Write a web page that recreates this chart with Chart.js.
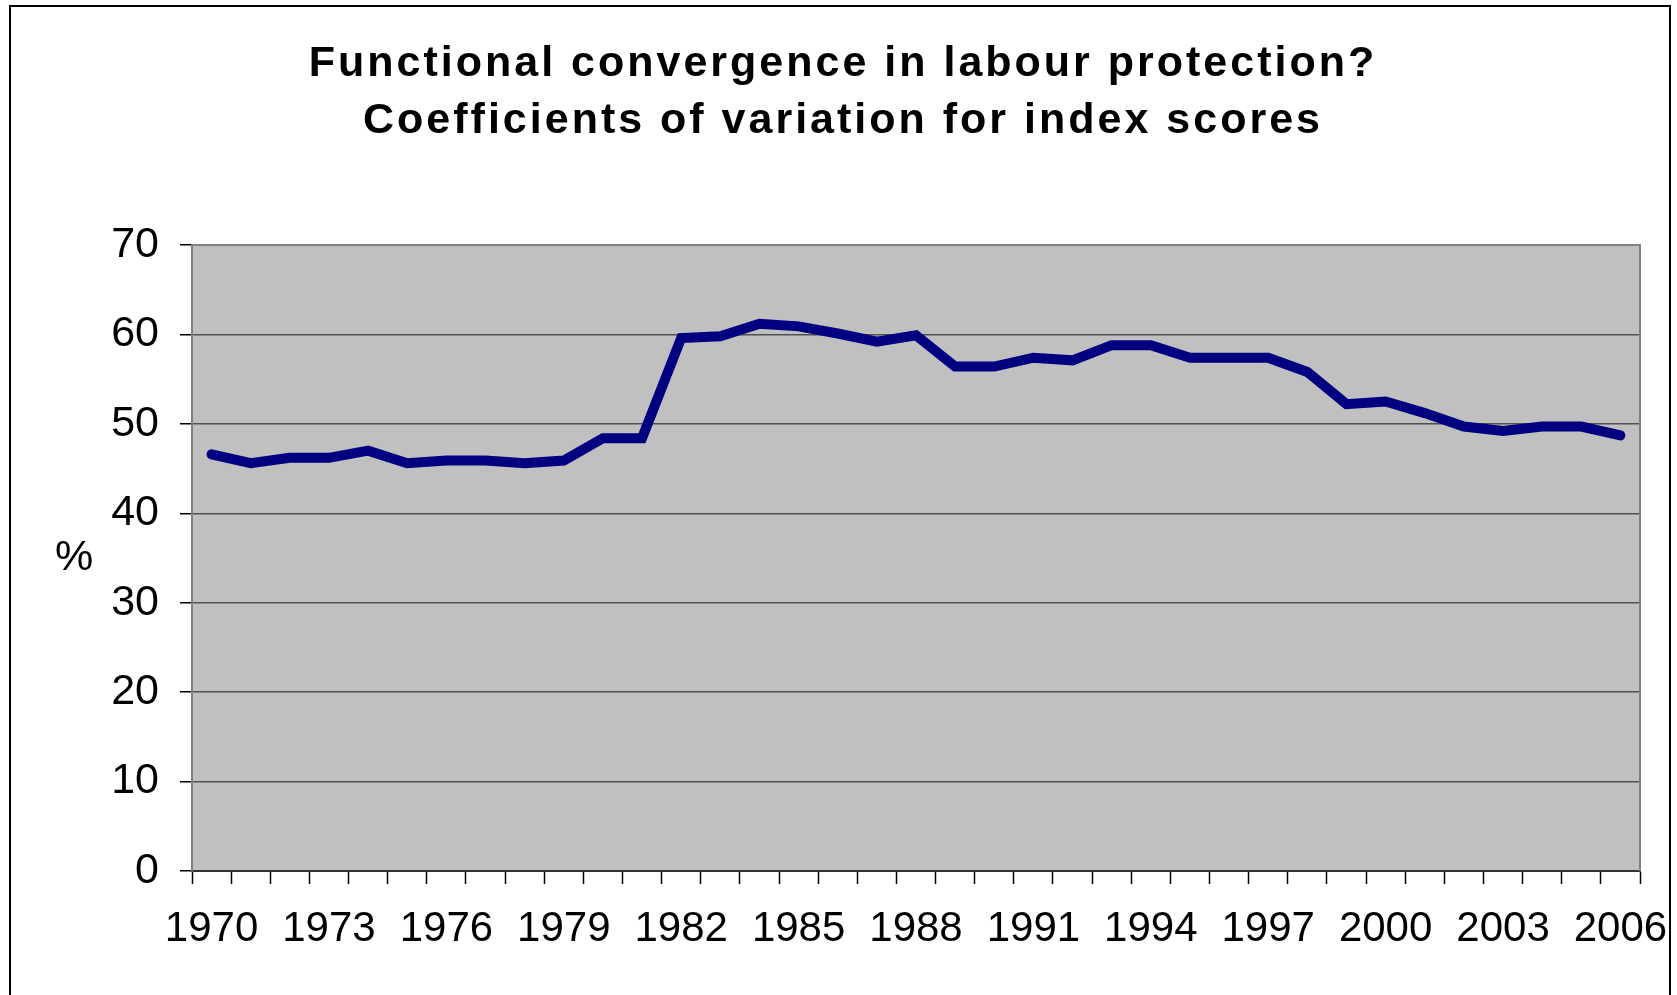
<!DOCTYPE html>
<html lang="en">
<head>
    <meta charset="UTF-8">
    <title>labour protection</title>
    <script src="https://cdn.jsdelivr.net/npm/chart.js@4/dist/chart.umd.min.js"></script>
    <style>
        body{
            padding: 0;
            margin: 0;
            background-color: white;
        }
        .container{
            width: 1677px;
            height: 995px;
        }
    </style>
</head>
<body>
    <div class="container">
        <canvas id="mychart" width="1677" height="995"></canvas>
    </div>
    <script>
        // years on the x axis
        const years = [1970,1971,1972,1973,1974,1975,1976,1977,1978,1979,
                       1980,1981,1982,1983,1984,1985,1986,1987,1988,1989,
                       1990,1991,1992,1993,1994,1995,1996,1997,1998,1999,
                       2000,2001,2002,2003,2004,2005,2006];
        // coefficient of variation (%)
        const coefVar = [46.6,45.6,46.2,46.2,47.0,45.6,45.9,45.9,45.6,45.9,
                         48.4,48.4,59.6,59.8,61.2,60.9,60.1,59.2,59.9,56.4,
                         56.4,57.4,57.1,58.8,58.8,57.4,57.4,57.4,55.8,52.2,
                         52.5,51.2,49.7,49.2,49.7,49.7,48.7];
        const yTicks = [0,10,20,30,40,50,60,70];
        const titleLines = ['Functional convergence in labour protection?',
                            'Coefficients of variation for index scores'];
        const yLabel = '%';

        const fontName = '"Liberation Sans", Arial, sans-serif';

        // white page, outer frame, grey plot area, title and the % label
        const frame = {
            id: 'frame',
            beforeDraw(chart){
                const c = chart.ctx;
                const a = chart.chartArea;
                c.save();
                c.fillStyle = '#ffffff';
                c.fillRect(0, 0, chart.width, chart.height);
                c.strokeStyle = '#000000';
                c.lineWidth = 2;
                c.strokeRect(10, 6, 1660, 1010);
                c.fillStyle = '#c0c0c0';
                c.fillRect(a.left, a.top, a.right - a.left, a.bottom - a.top);
                c.restore();
            },
            afterDatasetsDraw(chart){
                const c = chart.ctx;
                const a = chart.chartArea;
                c.save();
                c.strokeStyle = '#808080';
                c.lineWidth = 2;
                c.beginPath();
                c.moveTo(a.left, a.top);
                c.lineTo(a.right, a.top);
                c.lineTo(a.right, a.bottom);
                c.stroke();

                c.fillStyle = '#000000';
                c.textAlign = 'center';
                c.textBaseline = 'alphabetic';
                c.font = '43px ' + fontName;
                c.fillText(yLabel, 74, 570);

                c.font = 'bold 43px ' + fontName;
                c.letterSpacing = '3px';
                c.fillText(titleLines[0], 843, 76);
                c.fillText(titleLines[1], 843, 133);
                c.letterSpacing = '0px';
                c.restore();
            }
        };

        const mychart = document.getElementById('mychart').getContext('2d');
        const linechart = new Chart(mychart, {
            type: 'line',
            data: {
                labels: years,
                datasets: [{
                    label: 'CV',
                    data: coefVar,
                    borderColor: '#000080',
                    borderWidth: 10,
                    borderCapStyle: 'round',
                    borderJoinStyle: 'miter',
                    pointRadius: 0,
                    tension: 0,
                    fill: false
                }]
            },
            options: {
                responsive: false,
                animation: false,
                layout: {
                    padding: {top: 245, left: 0, right: 37, bottom: 0}
                },
                plugins: {
                    legend: {display: false},
                    tooltip: {enabled: false},
                    title: {display: false}
                },
                scales: {
                    x: {
                        offset: true,
                        afterFit(scale){
                            scale.height = 124;
                            // the end labels may run past the plot, as in the original
                            scale.paddingLeft = 0;
                            scale.paddingRight = 0;
                        },
                        grid: {
                            offset: true,
                            drawOnChartArea: false,
                            drawTicks: true,
                            tickLength: 13,
                            tickColor: '#000000',
                            tickWidth: 1.5
                        },
                        border: {color: '#333333', width: 2},
                        ticks: {
                            autoSkip: false,
                            maxRotation: 0,
                            color: '#000000',
                            padding: 20,
                            font: {family: fontName, size: 42},
                            callback: function(v, i){ return i % 3 === 0 ? years[i] : ''; }
                        }
                    },
                    y: {
                        min: 0,
                        max: 70,
                        afterFit(scale){ scale.width = 192; },
                        afterBuildTicks(scale){ scale.ticks = yTicks.map(v => ({value: v})); },
                        grid: {
                            color: '#505050',
                            lineWidth: 1.5,
                            tickLength: 12,
                            tickColor: '#000000'
                        },
                        border: {color: '#808080', width: 2},
                        ticks: {
                            color: '#000000',
                            padding: 21,
                            font: {family: fontName, size: 43}
                        }
                    }
                }
            },
            plugins: [frame]
        });
    </script>
</body>
</html>
